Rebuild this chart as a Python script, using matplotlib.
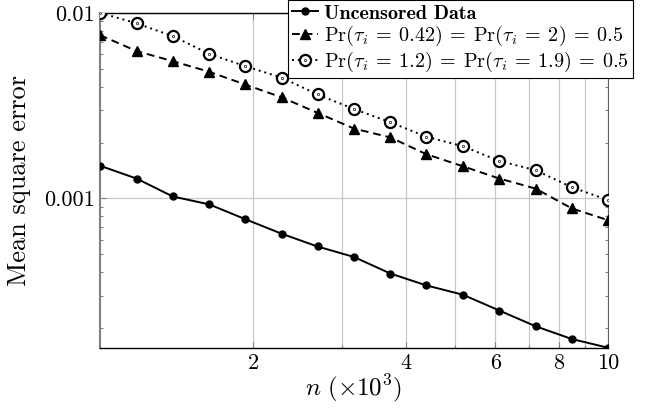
import matplotlib
matplotlib.use("Agg")
import matplotlib.pyplot as plt
import numpy as np
from matplotlib.ticker import FixedLocator, FixedFormatter, NullFormatter
from matplotlib.path import Path

plt.rcParams['font.family'] = 'serif'
plt.rcParams['font.serif'] = ['cmr10', 'DejaVu Serif']
plt.rcParams['mathtext.fontset'] = 'cm'
plt.rcParams['axes.unicode_minus'] = False
plt.rcParams['axes.formatter.use_mathtext'] = True

# n (x10^3), log-spaced sample sizes
n = [1.0, 1.18, 1.39, 1.64, 1.93, 2.28, 2.68, 3.16, 3.73, 4.39, 5.18, 6.11, 7.20, 8.48, 10.0]

# mean square error for each setting
mse_uncensored = [1.50e-3, 1.28e-3, 1.025e-3, 9.29e-4, 7.74e-4, 6.45e-4, 5.51e-4, 4.84e-4,
                  3.94e-4, 3.40e-4, 3.03e-4, 2.49e-4, 2.05e-4, 1.75e-4, 1.57e-4]
mse_tau_042_2 = [7.58e-3, 6.22e-3, 5.49e-3, 4.81e-3, 4.11e-3, 3.50e-3, 2.89e-3, 2.38e-3,
                 2.13e-3, 1.73e-3, 1.49e-3, 1.28e-3, 1.13e-3, 8.84e-4, 7.64e-4]
mse_tau_12_19 = [1.0e-2, 8.77e-3, 7.49e-3, 6.01e-3, 5.16e-3, 4.47e-3, 3.63e-3, 3.03e-3,
                 2.57e-3, 2.15e-3, 1.91e-3, 1.59e-3, 1.42e-3, 1.15e-3, 9.8e-4]

labels = ['Uncensored Data',
          r'$\Pr(\tau_i \:=\: 0.42) \:=\: \Pr(\tau_i \:=\: 2) \:=\: 0.5$',
          r'$\Pr(\tau_i \:=\: 1.2) \:=\: \Pr(\tau_i \:=\: 1.9) \:=\: 0.5$']

xtick_vals = [2, 4, 6, 8, 10]
xtick_labels = ['2', '4', '6', '8', '10']
ytick_vals = [0.001, 0.01]
ytick_labels = ['0.001', '0.01']

# open circle with a dot in the middle
odot = Path.make_compound_path(Path.circle((0, 0), 1.0), Path.circle((0, 0), 0.06))

fig = plt.figure(figsize=(6.55, 4.12), dpi=100)
ax = fig.add_axes([0.1527, 0.156, 0.7756, 0.813])
ax.set_xscale('log')
ax.set_yscale('log')

l1, = ax.plot(n, mse_uncensored, color='black', lw=1.4, ls='-',
              marker='o', markersize=5, zorder=3)
l2, = ax.plot(n, mse_tau_042_2, color='black', lw=1.4, ls=(0, (4, 2.5)),
              marker='^', markersize=7.5, zorder=3)
l3, = ax.plot(n, mse_tau_12_19, color='black', lw=1.4, ls=(0, (1, 2)),
              marker=odot, markersize=8, markerfacecolor='white',
              markeredgewidth=1.6, zorder=3)

ax.set_xlim(1, 10)
ax.set_ylim(min(mse_uncensored), 0.01)

ax.xaxis.set_major_locator(FixedLocator(xtick_vals))
ax.xaxis.set_major_formatter(FixedFormatter(xtick_labels))
ax.xaxis.set_minor_locator(FixedLocator([3, 5, 7, 9]))
ax.xaxis.set_minor_formatter(NullFormatter())
ax.yaxis.set_major_locator(FixedLocator(ytick_vals))
ax.yaxis.set_major_formatter(FixedFormatter(ytick_labels))
ax.yaxis.set_minor_formatter(NullFormatter())

ax.grid(True, which='both', axis='x', color='#c8c8c8', lw=0.9)
ax.grid(True, which='major', axis='y', color='#c8c8c8', lw=0.9)
ax.set_axisbelow(True)

ax.tick_params(which='both', direction='in', top=True, right=True,
               color='#808080', labelsize=16, pad=4)
ax.tick_params(which='major', length=4, width=0.8)
ax.tick_params(which='minor', length=2.5, width=0.8)

ax.spines['left'].set_color('#808080')
ax.spines['left'].set_linewidth(1.5)
ax.spines['right'].set_color('#606060')
for s in ['top', 'bottom']:
    ax.spines[s].set_color('black')
    ax.spines[s].set_linewidth(1.0)

ax.set_xlabel(r'$n\ (\times 10^3)$', fontsize=18)
ax.xaxis.set_label_coords(0.5, -0.072)
ax.set_ylabel('Mean square error', fontsize=19)
ax.yaxis.set_label_coords(-0.135, 0.5)

leg = fig.legend([l1, l2, l3], labels,
                 loc='upper right', bbox_to_anchor=(0.966, 0.999),
                 bbox_transform=fig.transFigure, fontsize=14.5,
                 handlelength=1.3, handletextpad=0.3, borderpad=0.2,
                 labelspacing=0.08, borderaxespad=0.0, fancybox=False,
                 framealpha=1.0, edgecolor='black')
leg.get_frame().set_linewidth(0.8)
leg.get_texts()[0].set_fontfamily('cmb10')

fig.savefig('out.png', dpi=100)
